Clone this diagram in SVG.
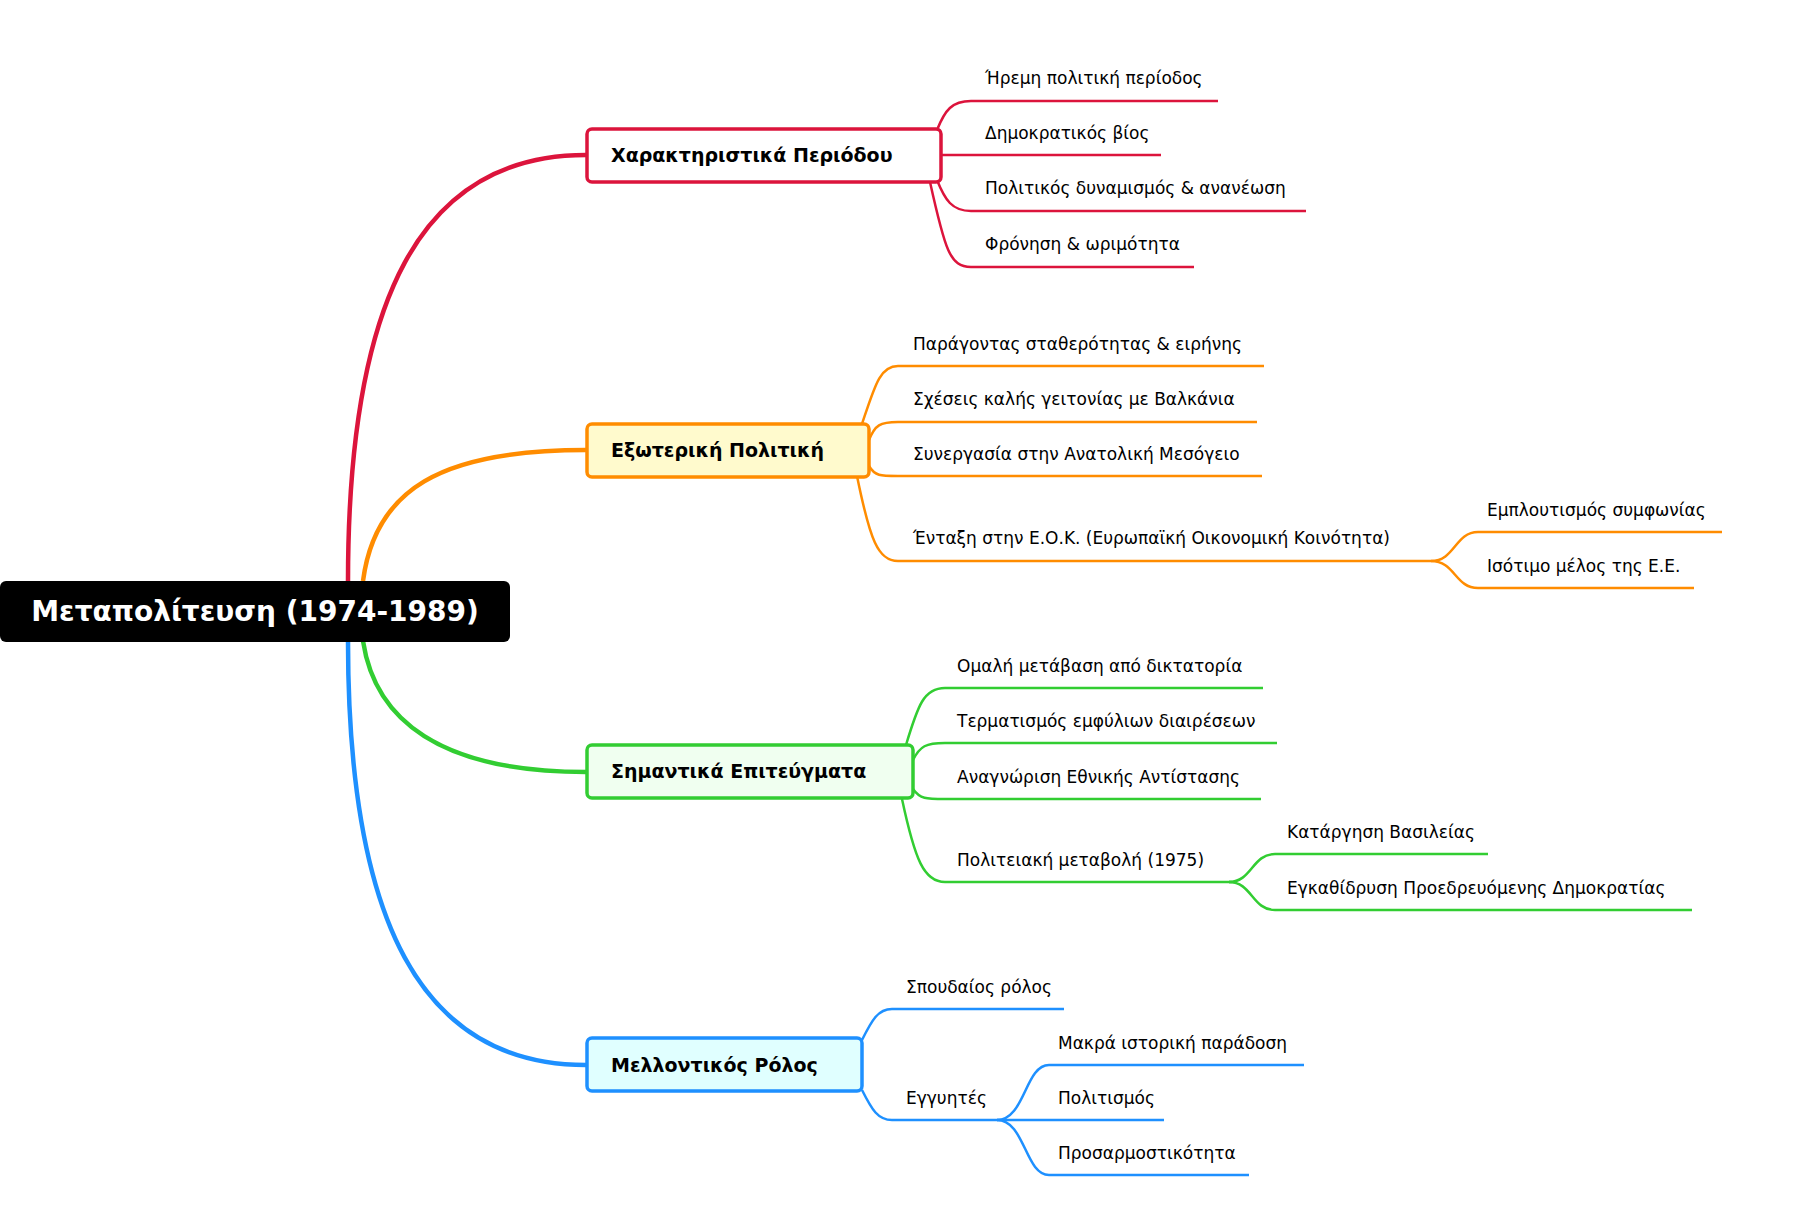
<svg xmlns="http://www.w3.org/2000/svg" width="1808" height="1215" viewBox="0 0 1808 1215">
<style>
text{font-family:"DejaVu Sans","Noto Sans",sans-serif;font-size:17px;fill:#000}
.b{font-weight:bold;font-size:19px}
.r{stroke:#dc143c}.o{stroke:#ff8c00}.g{stroke:#32cd32}.u{stroke:#1e90ff}
.m{fill:none;stroke-width:4.5}
.l{fill:none;stroke-width:2.5}
</style>
<rect width="1808" height="1215" fill="#fff"/>
<g id="connectors">
<path class="m r" d="M348 581 C348 300 420 155 586 155"/>
<path class="m o" d="M363 581 C375 490 440 450 586 450"/>
<path class="m g" d="M363 641 C375 720 440 772 586 772"/>
<path class="m u" d="M348 641 C348 920 420 1065 586 1065"/>
<path class="l r" d="M937 130 C945 110 952 101 971 101 H1218"/>
<path class="l r" d="M941 155 H1161"/>
<path class="l r" d="M937 180 C945 200 952 211 971 211 H1306"/>
<path class="l r" d="M930 182 C945 250 950 267 971 267 H1194"/>
<path class="l o" d="M862 424 C875 385 880 366 898 366 H1264"/>
<path class="l o" d="M869 440 C875 425 880 422 898 422 H1257"/>
<path class="l o" d="M869 466 C875 476 880 476 898 476 H1262"/>
<path class="l o" d="M857 476 C870 540 878 561 898 561 H1431"/>
<path class="l o" d="M1431 561 C1455 561 1455 532 1478 532 H1722"/>
<path class="l o" d="M1431 561 C1455 561 1455 588 1478 588 H1694"/>
<path class="l g" d="M906 745 C918 705 924 688 945 688 H1263"/>
<path class="l g" d="M913 760 C920 746 926 743 945 743 H1277"/>
<path class="l g" d="M913 789 C920 799 926 799 945 799 H1261"/>
<path class="l g" d="M902 799 C915 860 924 882 945 882 H1234"/>
<path class="l g" d="M1229 882 C1252 882 1252 854 1275 854 H1488"/>
<path class="l g" d="M1229 882 C1252 882 1252 910 1275 910 H1692"/>
<path class="l u" d="M862 1040 C872 1020 878 1009 892 1009 H1064"/>
<path class="l u" d="M862 1090 C872 1110 878 1120 892 1120 H997"/>
<path class="l u" d="M997 1120 C1025 1120 1025 1065 1049 1065 H1304"/>
<path class="l u" d="M997 1120 H1164"/>
<path class="l u" d="M997 1120 C1025 1120 1025 1175 1049 1175 H1249"/>
</g>
<g id="root"><rect x="0" y="581" width="510" height="61" rx="6" fill="#000"/><text x="255" y="621" text-anchor="middle" style="font-size:28px;font-weight:bold;fill:#fff">Μεταπολίτευση (1974-1989)</text></g>
<g id="n1"><rect x="587" y="129" width="354" height="53" rx="5" fill="#fff" stroke="#dc143c" stroke-width="3.5"/><text class="b" x="611" y="162">Χαρακτηριστικά Περιόδου</text></g>
<g id="n2"><rect x="587" y="424" width="282" height="53" rx="5" fill="#fffacd" stroke="#ff8c00" stroke-width="3.5"/><text class="b" x="611" y="457">Εξωτερική Πολιτική</text></g>
<g id="n3"><rect x="587" y="745" width="326" height="53" rx="5" fill="#f0fff0" stroke="#32cd32" stroke-width="3.5"/><text class="b" x="611" y="778">Σημαντικά Επιτεύγματα</text></g>
<g id="n4"><rect x="587" y="1038" width="275" height="53" rx="5" fill="#e0ffff" stroke="#1e90ff" stroke-width="3.5"/><text class="b" x="611" y="1072">Μελλοντικός Ρόλος</text></g>
<g id="leaves">
<text x="985" y="84">Ήρεμη πολιτική περίοδος</text>
<text x="985" y="139">Δημοκρατικός βίος</text>
<text x="985" y="194">Πολιτικός δυναμισμός &amp; ανανέωση</text>
<text x="985" y="250">Φρόνηση &amp; ωριμότητα</text>
<text x="913" y="350">Παράγοντας σταθερότητας &amp; ειρήνης</text>
<text x="913" y="405">Σχέσεις καλής γειτονίας με Βαλκάνια</text>
<text x="913" y="460">Συνεργασία στην Ανατολική Μεσόγειο</text>
<text x="913" y="544">Ένταξη στην Ε.Ο.Κ. (Ευρωπαϊκή Οικονομική Κοινότητα)</text>
<text x="1487" y="516">Εμπλουτισμός συμφωνίας</text>
<text x="1487" y="572">Ισότιμο μέλος της Ε.Ε.</text>
<text x="957" y="672">Ομαλή μετάβαση από δικτατορία</text>
<text x="957" y="727">Τερματισμός εμφύλιων διαιρέσεων</text>
<text x="957" y="783">Αναγνώριση Εθνικής Αντίστασης</text>
<text x="957" y="866">Πολιτειακή μεταβολή (1975)</text>
<text x="1287" y="838">Κατάργηση Βασιλείας</text>
<text x="1287" y="894">Εγκαθίδρυση Προεδρευόμενης Δημοκρατίας</text>
<text x="906" y="993">Σπουδαίος ρόλος</text>
<text x="906" y="1104">Εγγυητές</text>
<text x="1058" y="1049">Μακρά ιστορική παράδοση</text>
<text x="1058" y="1104">Πολιτισμός</text>
<text x="1058" y="1159">Προσαρμοστικότητα</text>
</g>
</svg>
